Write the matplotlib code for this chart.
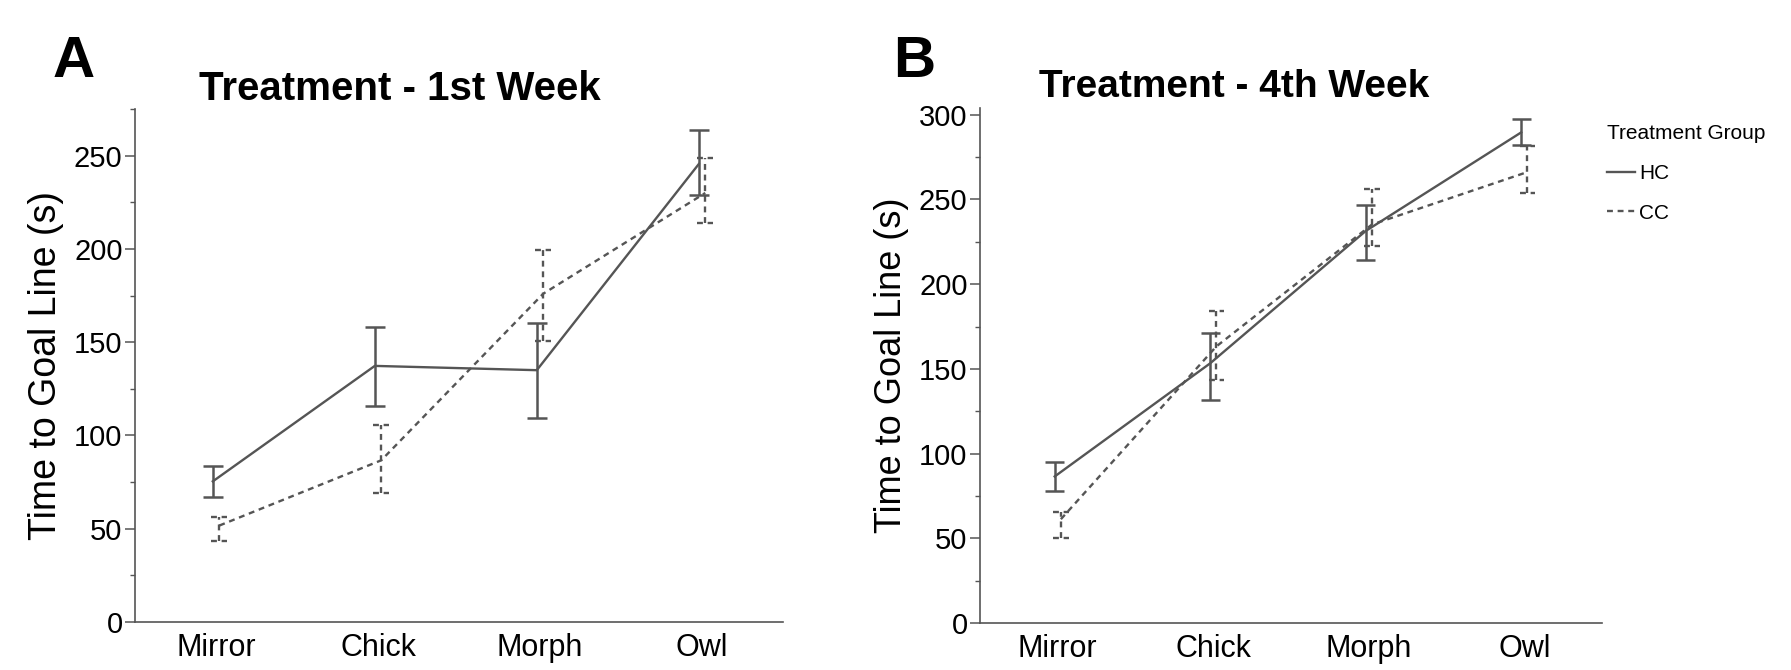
import numpy as np
import matplotlib
matplotlib.use("Agg")
import matplotlib.pyplot as plt
from matplotlib.lines import Line2D
from matplotlib.ticker import MultipleLocator

plt.rcParams['font.family'] = ['Liberation Sans', 'DejaVu Sans']

categories = ["Mirror", "Chick", "Morph", "Owl"]

# Panel A - 1st week
hc_w1 = [75.4, 137.3, 135.0, 245.5]
hc_w1_lo = [67.2, 115.9, 109.2, 229.0]
hc_w1_hi = [83.5, 158.0, 160.3, 263.5]
cc_w1 = [51.7, 86.7, 176.0, 230.0]
cc_w1_lo = [43.2, 69.0, 150.6, 214.0]
cc_w1_hi = [56.3, 105.8, 199.4, 248.8]

# Panel B - 4th week
hc_w4 = [86.5, 153.3, 231.4, 289.6]
hc_w4_lo = [78.1, 131.8, 214.3, 282.3]
hc_w4_hi = [94.8, 170.9, 246.5, 297.7]
cc_w4 = [61.3, 163.3, 235.2, 266.2]
cc_w4_lo = [49.9, 143.7, 222.6, 253.8]
cc_w4_hi = [65.5, 184.3, 255.9, 281.4]

col = '#555555'
dash = (0, (2.5, 2))

fig = plt.figure(figsize=(17.91, 6.70), dpi=100)
axA = fig.add_axes([0.0754, 0.0716, 0.3618, 0.7657])
axB = fig.add_axes([0.5472, 0.0701, 0.3473, 0.7687])


def panel(ax, hc, hc_lo, hc_hi, cc, cc_lo, cc_hi, ymax):
    x = np.arange(len(categories))
    xh = x - 0.02
    xc = x + 0.02
    ax.plot(xh, hc, color=col, lw=1.7)
    ax.vlines(xh, hc_lo, hc_hi, color=col, lw=1.8)
    ax.hlines(hc_lo, xh - 0.062, xh + 0.062, color=col, lw=1.8)
    ax.hlines(hc_hi, xh - 0.062, xh + 0.062, color=col, lw=1.8)
    ax.plot(xc, cc, color=col, lw=1.7, linestyle=dash)
    ax.vlines(xc, cc_lo, cc_hi, color=col, lw=1.7, linestyles=[dash])
    ax.hlines(cc_lo, xc - 0.05, xc + 0.05, color=col, lw=1.7, linestyles=[dash])
    ax.hlines(cc_hi, xc - 0.05, xc + 0.05, color=col, lw=1.7, linestyles=[dash])

    ax.set_xlim(-0.5, 3.5)
    ax.set_ylim(0, ymax)
    ax.set_xticks(x)
    ax.set_xticklabels(categories)
    ax.yaxis.set_major_locator(MultipleLocator(50))
    ax.yaxis.set_minor_locator(MultipleLocator(25))
    for s in ['top', 'right']:
        ax.spines[s].set_visible(False)
    for s in ['left', 'bottom']:
        ax.spines[s].set_color(col)
        ax.spines[s].set_linewidth(1.2)
    ax.tick_params(axis='x', length=0, labelsize=22, pad=8)
    ax.tick_params(axis='y', which='major', length=7, width=1.1, color=col,
                   labelsize=21, pad=2)
    ax.tick_params(axis='y', which='minor', length=3.5, width=1.0, color=col)


panel(axA, hc_w1, hc_w1_lo, hc_w1_hi, cc_w1, cc_w1_lo, cc_w1_hi, 275)
panel(axB, hc_w4, hc_w4_lo, hc_w4_hi, cc_w4, cc_w4_lo, cc_w4_hi, 304)

axA.set_ylabel("Time to Goal Line (s)", fontsize=27)
axB.set_ylabel("Time to Goal Line (s)", fontsize=26)
axA.yaxis.set_label_coords(-0.110, 0.5)
axB.yaxis.set_label_coords(-0.114, 0.5)

fig.text(400 / 1791, (670 - 100) / 670, "Treatment - 1st Week", ha='center',
         va='baseline', fontsize=29, fontweight='bold')
fig.text(1234 / 1791, (670 - 97) / 670, "Treatment - 4th Week", ha='center',
         va='baseline', fontsize=28, fontweight='bold')
fig.text(53 / 1791, (670 - 77) / 670, "A", ha='left', va='baseline',
         fontsize=42, fontweight='bold')
fig.text(893 / 1791, (670 - 77) / 670, "B", ha='left', va='baseline',
         fontsize=42, fontweight='bold')

handles = [Line2D([], [], color=col, lw=1.7),
           Line2D([], [], color=col, lw=1.7, linestyle=dash)]
leg = fig.legend(handles, ["HC", "CC"], title="Treatment Group",
                 loc='upper left', bbox_to_anchor=(1607 / 1791, (670 - 124) / 670),
                 frameon=False, fontsize=15, title_fontsize=15,
                 handlelength=1.35, handletextpad=0.2, labelspacing=1.0,
                 borderpad=0, borderaxespad=0)
leg._legend_box.align = "left"

fig.savefig("out.png", dpi=100)
